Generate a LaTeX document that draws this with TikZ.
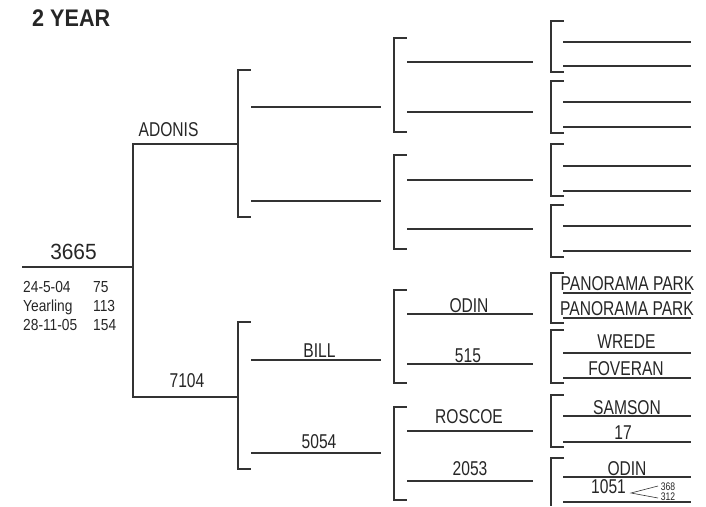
\documentclass[tikz,border=0pt]{standalone}
\usepackage{fontspec}
\setmainfont{Liberation Sans}
\newfontfamily\narf{Liberation Sans}[FakeStretch=0.78]
\newfontfamily\smf{Liberation Sans}[FakeStretch=0.86]
\newfontfamily\midf{Liberation Sans}[FakeStretch=0.95]
\newfontfamily\titlef{Liberation Sans}[FakeStretch=0.9]
\tikzset{
  ln/.style={line width=1.1pt, draw=black!80},
  lbl/.style={font=\narf\fontsize{20}{20}\selectfont, text=black!85, inner sep=0pt, anchor=base},
  tiny/.style={font=\narf\fontsize{11}{11}\selectfont, text=black!85, inner sep=0pt, anchor=base},
  sm/.style={font=\smf\fontsize{16}{16}\selectfont, text=black!85, inner sep=0pt, anchor=base west},
}
\begin{document}
\begin{tikzpicture}[x=1pt,y=-1pt]
\useasboundingbox (0,0) rectangle (706,506);
% title
\node[anchor=base west, inner sep=0pt, text=black!85, font=\titlef\bfseries\fontsize{24}{24}\selectfont] (title) at (32,27) {2 YEAR};
% generation 0
\coordinate (g0a) at (22,267);
\coordinate (g0b) at (133,267);
\draw[ln] (g0a) -- (g0b);
\node[lbl, font=\midf\fontsize{22}{22}\selectfont] (n3665) at (73.5,259) {3665};
\node[sm] (d1) at (23,292) {24-5-04};
\node[sm] (v1) at (93,292) {75};
\node[sm] (d2) at (23,311) {Yearling};
\node[sm] (v2) at (93,311) {113};
\node[sm] (d3) at (23,330) {28-11-05};
\node[sm] (v3) at (93,330) {154};
% generation 1
\coordinate (sa) at (133,144);
\coordinate (sb) at (238,144);
\coordinate (da) at (133,397);
\coordinate (db) at (238,397);
\draw[ln] (sb) -- (sa) -- (da) -- (db);
\node[lbl] (adonis) at (168.5,136) {ADONIS};
\node[lbl] (n7104) at (187,387) {7104};
% brackets
\foreach \nm/\x/\t/\b in {p1/238/70/217, p2/238/322/469,
  q1/394/38/132, q2/394/155/249, q3/394/290/383, q4/394/407/500,
  r1/551/21/72, r2/551/81/133, r3/551/144/196, r4/551/205/257,
  r5/551/273/323, r6/551/330/383, r7/551/395/447} {
  \coordinate (\nm t) at (\x,\t);
  \coordinate (\nm b) at (\x,\b);
  \draw[ln] ([xshift=12.5pt]\nm t) -- (\nm t) -- (\nm b) -- ([xshift=12.5pt]\nm b);
}
\coordinate (r8t) at (551,458);
\coordinate (r8b) at (551,506);
\draw[ln] ([xshift=12.5pt]r8t) -- (r8t) -- (r8b);
% lines
\foreach \nm/\xa/\xb/\y in {
  a1/251/381/107, a2/251/381/201, a3/251/381/360, a4/251/381/453,
  b1/407/533/62, b2/407/533/112, b3/407/533/180, b4/407/533/229,
  b5/407/533/314, b6/407/533/364, b7/407/533/431, b8/407/533/481,
  c1/563/691/42, c2/563/691/66, c3/563/691/102, c4/563/691/127,
  c5/563/691/166, c6/563/691/191, c7/563/691/226, c8/563/691/251,
  c9/563/691/293, c10/563/691/318, c11/563/691/353, c12/563/691/378,
  c13/563/691/416, c14/563/691/442, c15/563/691/477, c16/563/691/502} {
  \coordinate (\nm a) at (\xa,\y);
  \coordinate (\nm b) at (\xb,\y);
  \draw[ln] (\nm a) -- (\nm b);
}
% labels
\node[lbl] (bill) at (319.5,357) {BILL};
\node[lbl] (n5054) at (319,448) {5054};
\node[lbl] (odin1) at (469,312) {ODIN};
\node[lbl] (n515) at (468,362) {515};
\node[lbl] (roscoe) at (469,423) {ROSCOE};
\node[lbl] (n2053) at (470,475) {2053};
\node[lbl] (pp1) at (627.5,290) {PANORAMA PARK};
\node[lbl] (pp2) at (627,315) {PANORAMA PARK};
\node[lbl] (wrede) at (626.5,348) {WREDE};
\node[lbl] (foveran) at (626,375) {FOVERAN};
\node[lbl] (samson) at (627,414) {SAMSON};
\node[lbl] (n17) at (623,439) {17};
\node[lbl] (odin2) at (627,475) {ODIN};
\node[lbl] (n1051) at (608.5,493) {1051};
% small fork
\coordinate (fv) at (631,493);
\coordinate (fu) at (658,486);
\coordinate (fl) at (658,498);
\draw[line width=0.6pt, draw=black!80] (fu) -- (fv) -- (fl);
\node[tiny] (n368) at (668,490) {368};
\node[tiny] (n312) at (668,500) {312};
\end{tikzpicture}
\end{document}
